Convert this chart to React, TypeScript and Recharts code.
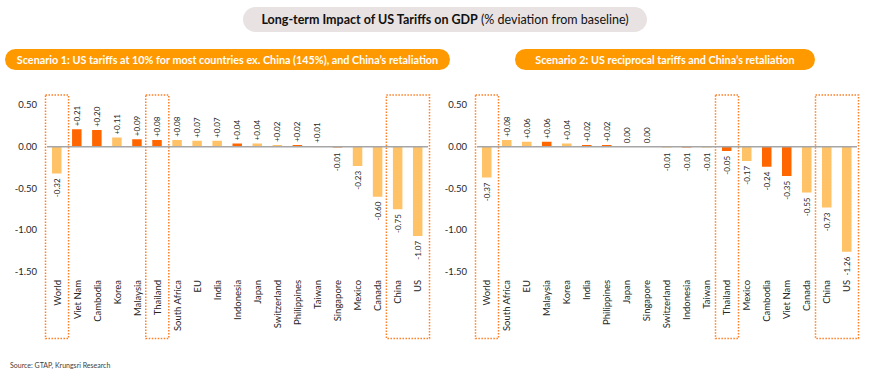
import React from 'react';
import { BarChart, Bar, XAxis, YAxis, Cell, ReferenceLine, ReferenceArea, LabelList } from 'recharts';

// ---------- data ----------
const countries1 = ['World', 'Viet Nam', 'Cambodia', 'Korea', 'Malaysia', 'Thailand', 'South Africa', 'EU', 'India', 'Indonesia', 'Japan', 'Switzerland', 'Philippines', 'Taiwan', 'Singapore', 'Mexico', 'Canada', 'China', 'US'];
const values1 = [-0.32, 0.21, 0.2, 0.11, 0.09, 0.08, 0.08, 0.07, 0.07, 0.04, 0.04, 0.02, 0.02, 0.01, -0.01, -0.23, -0.6, -0.75, -1.07];
const asean1 = [false, true, true, false, true, true, false, false, false, true, false, false, true, false, true, false, false, false, false];

const countries2 = ['World', 'South Africa', 'EU', 'Malaysia', 'Korea', 'India', 'Philippines', 'Japan', 'Singapore', 'Switzerland', 'Indonesia', 'Taiwan', 'Thailand', 'Mexico', 'Cambodia', 'Viet Nam', 'Canada', 'China', 'US'];
const values2 = [-0.37, 0.08, 0.06, 0.06, 0.04, 0.02, 0.02, 0.0, 0.0, -0.01, -0.01, -0.01, -0.05, -0.17, -0.24, -0.35, -0.55, -0.73, -1.26];
const asean2 = [false, false, false, true, false, true, true, false, false, false, true, false, true, false, true, true, false, false, false];

const yTicks = [0.5, 0, -0.5, -1, -1.5];
const boxes1: [string, string][] = [['World', 'World'], ['Thailand', 'Thailand'], ['China', 'US']];
const boxes2: [string, string][] = [['World', 'World'], ['Thailand', 'Thailand'], ['China', 'US']];

const title = 'Long-term Impact of US Tariffs on GDP';
const subtitle = ' (% deviation from baseline)';
const scenario1 = 'Scenario 1: US tariffs at 10% for most countries ex. China (145%), and China\u2019s retaliation';
const scenario2 = 'Scenario 2: US reciprocal tariffs and China\u2019s retaliation';
const source = 'Source: GTAP, Krungsri Research';

// ---------- styles ----------
const DARK = '#FF6600';
const LIGHT = '#FFC266';
const BOX = '#FF7F27';
const FONT = 'Lato, "Open Sans", sans-serif';
const TEXT = '#262626';

const build = (c: string[], v: number[], h: boolean[]) => c.map((name, i) => ({ name, value: v[i], hl: h[i] }));
const data1 = build(countries1, values1, asean1);
const data2 = build(countries2, values2, asean2);

const fmt = (v: number) => (v > 0 ? '+' + v.toFixed(2) : v.toFixed(2));

const BarValueLabel = (props: any) => {
  const vb = props.viewBox && props.viewBox.width !== undefined ? props.viewBox : props;
  const { x, y, width, height } = vb;
  const v = Number(props.value);
  const cx = x + width / 2;
  const top = Math.min(y, y + height);
  const bottom = Math.max(y, y + height);
  if (v >= 0) {
    const ay = top - 3;
    return (
      <text x={cx} y={ay} transform={`rotate(-90, ${cx}, ${ay})`} textAnchor="start" dominantBaseline="central" fontSize={8} fill={TEXT} fontFamily={FONT}>
        {fmt(v)}
      </text>
    );
  }
  const ay = bottom + 5;
  return (
    <text x={cx} y={ay} transform={`rotate(-90, ${cx}, ${ay})`} textAnchor="end" dominantBaseline="central" fontSize={8} fill={TEXT} fontFamily={FONT}>
      {fmt(v)}
    </text>
  );
};

const CategoryTick = (props: any) => {
  const { x, y, payload } = props;
  return (
    <text x={x} y={y} transform={`rotate(-90, ${x}, ${y})`} textAnchor="end" dominantBaseline="central" fontSize={9.5} fill={TEXT} fontFamily={FONT}>
      {payload.value}
    </text>
  );
};

const BoxShape = (props: any) => {
  const { x, y, width, height } = props;
  return <rect x={x - 1.5} y={y} width={width + 3} height={height} fill="none" stroke={BOX} strokeWidth={1.5} strokeDasharray="1.5 1.5" />;
};

// zero-valued bars get a hairline height (hidden under the zero line) so their label still renders
const minSize = (value: any) => (Number(value) === 0 ? 0.5 : 0);

const Panel = ({ data, boxes, yWidth, right }: { data: any[]; boxes: [string, string][]; yWidth: number; right: number }) => (
  <BarChart width={435} height={385} data={data} margin={{ top: 96.7, right, bottom: 49.1, left: 0 }}>
    <YAxis
      type="number"
      domain={[-1.55, 0.6]}
      ticks={yTicks}
      allowDataOverflow
      tickFormatter={(v: number) => v.toFixed(2)}
      axisLine={false}
      tickLine={false}
      tickSize={0}
      tickMargin={10}
      width={yWidth}
      tick={{ fontSize: 9.5, fill: TEXT, fontFamily: FONT }}
    />
    <XAxis dataKey="name" type="category" interval={0} axisLine={false} tickLine={false} tickSize={0} tickMargin={4} height={60} tick={CategoryTick} />
    {boxes.map(([a, b]) => (
      <ReferenceArea key={a} x1={a} x2={b} y1={-2.3} y2={0.62} ifOverflow="visible" shape={BoxShape} />
    ))}
    <Bar dataKey="value" barSize={9.5} minPointSize={minSize} isAnimationActive={false}>
      {data.map((d, i) => (
        <Cell key={i} fill={d.hl ? DARK : LIGHT} />
      ))}
      <LabelList dataKey="value" content={BarValueLabel} />
    </Bar>
    <ReferenceLine y={0} stroke="#A6A6A6" strokeWidth={1.5} ifOverflow="visible" />
  </BarChart>
);

const pill = (left: number, top: number, width: number, height: number, bg: string): React.CSSProperties => ({
  position: 'absolute',
  left,
  top,
  width,
  height,
  borderRadius: height / 2,
  background: bg,
  display: 'flex',
  alignItems: 'center',
  justifyContent: 'center',
  whiteSpace: 'nowrap',
  fontFamily: FONT,
});

export default function App() {
  return (
    <div style={{ position: 'absolute', left: 0, top: 0, width: 870, height: 385, background: '#fff', overflow: 'hidden', fontFamily: FONT }}>
      <div style={{ position: 'absolute', left: 0, top: 0 }}>
        <Panel data={data1} boxes={boxes1} yWidth={47} right={7} />
      </div>
      <div style={{ position: 'absolute', left: 435, top: 0 }}>
        <Panel data={data2} boxes={boxes2} yWidth={42} right={13} />
      </div>
      <div style={{ ...pill(243, 7, 404, 25, '#E8E2E2'), fontSize: 12.5, color: '#111' }}>
        <span style={{ fontWeight: 700 }}>{title}</span>
        <span style={{ whiteSpace: 'pre' }}>{subtitle}</span>
      </div>
      <div style={{ ...pill(5, 49, 445, 21, '#FF9900'), fontSize: 10.8, fontWeight: 700, color: '#fff' }}>{scenario1}</div>
      <div style={{ ...pill(515, 49, 300, 21, '#FF9900'), fontSize: 10.8, fontWeight: 700, color: '#fff' }}>{scenario2}</div>
      <div style={{ position: 'absolute', left: 10, top: 361, fontSize: 7, color: '#404040', fontFamily: FONT, whiteSpace: 'nowrap' }}>{source}</div>
    </div>
  );
}
